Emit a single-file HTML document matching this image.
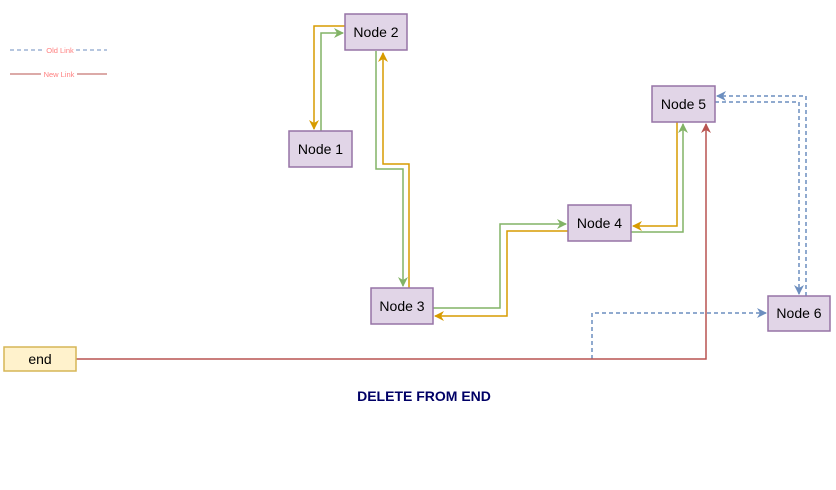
<!DOCTYPE html>
<html><head><meta charset="utf-8"><style>
html,body{margin:0;padding:0;background:#fff;}
svg{display:block;font-family:"Liberation Sans",Arial,sans-serif;}
</style></head><body>
<svg width="836" height="490" viewBox="0 0 836 490" xmlns="http://www.w3.org/2000/svg">
<defs>
<marker id="ao" viewBox="0 0 10 10" refX="9" refY="5" markerWidth="11" markerHeight="10" orient="auto" markerUnits="userSpaceOnUse"><path d="M0,0 L10,5 L0,10 L3,5z" fill="#d79b00"/></marker>
<marker id="ag" viewBox="0 0 10 10" refX="9" refY="5" markerWidth="11" markerHeight="10" orient="auto" markerUnits="userSpaceOnUse"><path d="M0,0 L10,5 L0,10 L3,5z" fill="#82b366"/></marker>
<marker id="ab" viewBox="0 0 10 10" refX="9" refY="5" markerWidth="11" markerHeight="10" orient="auto" markerUnits="userSpaceOnUse"><path d="M0,0 L10,5 L0,10 L3,5z" fill="#6c8ebf"/></marker>
<marker id="ar" viewBox="0 0 10 10" refX="9" refY="5" markerWidth="11" markerHeight="10" orient="auto" markerUnits="userSpaceOnUse"><path d="M0,0 L10,5 L0,10 L3,5z" fill="#b85450"/></marker>
</defs>
<g fill="none" stroke-width="1.5">
<path d="M345,26 H314 V129" stroke="#d79b00" marker-end="url(#ao)"/>
<path d="M321,131 V33 H343" stroke="#82b366" marker-end="url(#ag)"/>
<path d="M376,51 V169 H403 V286" stroke="#82b366" marker-end="url(#ag)"/>
<path d="M409,288 V164 H383 V53" stroke="#d79b00" marker-end="url(#ao)"/>
<path d="M433,308 H500 V224 H566" stroke="#82b366" marker-end="url(#ag)"/>
<path d="M568,231 H507 V316 H435" stroke="#d79b00" marker-end="url(#ao)"/>
<path d="M677,122 V226 H633" stroke="#d79b00" marker-end="url(#ao)"/>
<path d="M631,232 H683 V124" stroke="#82b366" marker-end="url(#ag)"/>
<path d="M715,102 H799 V294" stroke="#6c8ebf" stroke-dasharray="4 3" marker-end="url(#ab)"/>
<path d="M806,296 V96 H717" stroke="#6c8ebf" stroke-dasharray="4 3" marker-end="url(#ab)"/>
<path d="M592,359 V313 H766" stroke="#6c8ebf" stroke-dasharray="4 3" marker-end="url(#ab)"/>
<path d="M76,359 H706 V124" stroke="#b85450" marker-end="url(#ar)"/>
<path d="M10,50 H43 M76,50 H107" stroke="#6c8ebf" stroke-dasharray="4 3" stroke-width="1"/>
<path d="M10,74 H41 M77,74 H107" stroke="#b85450" stroke-width="1"/>
</g>
<text x="60" y="53" font-size="7.5" fill="#ff8080" text-anchor="middle">Old Link</text>
<text x="59" y="77" font-size="7.5" fill="#ff8080" text-anchor="middle">New Link</text>
<g fill="#e1d5e7" stroke="#9673a6" stroke-width="1.5">
<rect x="345" y="14" width="62" height="36"/>
<rect x="289" y="131" width="63" height="36"/>
<rect x="371" y="288" width="62" height="36"/>
<rect x="568" y="205" width="63" height="36"/>
<rect x="652" y="86" width="63" height="36"/>
<rect x="768" y="296" width="62" height="35"/>
</g>
<rect x="4" y="347" width="72" height="24" fill="#fff2cc" stroke="#d6b656" stroke-width="1.5"/>
<g font-size="14" fill="#000" text-anchor="middle">
<text x="376" y="37">Node 2</text>
<text x="320.5" y="154">Node 1</text>
<text x="402" y="311">Node 3</text>
<text x="599.5" y="228">Node 4</text>
<text x="683.5" y="109">Node 5</text>
<text x="799" y="318">Node 6</text>
<text x="40" y="364">end</text>
</g>
<text x="424" y="401" font-size="14" font-weight="bold" fill="#000066" text-anchor="middle">DELETE FROM END</text>
</svg>
</body></html>
